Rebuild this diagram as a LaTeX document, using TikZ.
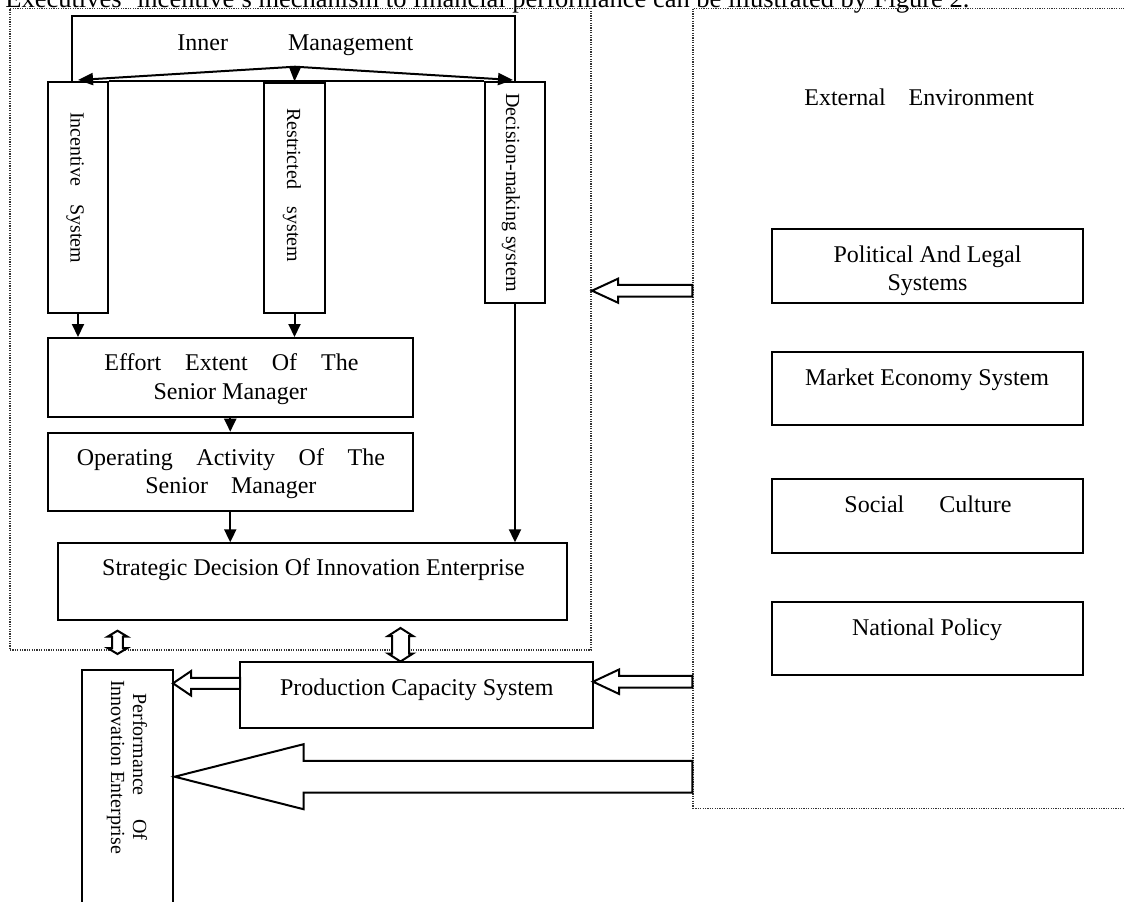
\documentclass[tikz,border=0pt]{standalone}
\usepackage{fontspec}
\setmainfont{Liberation Serif}
\usetikzlibrary{arrows.meta,fit,calc}
\newcommand\mainsz{\fontsize{12}{14}\selectfont}
\newcommand\vsz{\fontsize{10}{11}\selectfont}
% hollow block arrow pointing left: tip, tail, shaft half, head half, head length (px)
\newcommand\blockarrowL[5]{%
  \draw[hollow] let \p1=(#1), \p2=(#2) in
    (\p1) -- (\x1+#5*0.5pt,\y1+#4*0.5pt) -- (\x1+#5*0.5pt,\y1+#3*0.5pt)
    -- (\x2,\y1+#3*0.5pt) -- (\x2,\y1-#3*0.5pt) -- (\x1+#5*0.5pt,\y1-#3*0.5pt)
    -- (\x1+#5*0.5pt,\y1-#4*0.5pt) -- cycle;}
% hollow vertical double arrow: top, bottom, shaft half, head half, head length (px)
\newcommand\dblarrowV[5]{%
  \draw[hollow] let \p1=(#1), \p2=(#2) in
    (\p1) -- (\x1+#4*0.5pt,\y1-#5*0.5pt) -- (\x1+#3*0.5pt,\y1-#5*0.5pt)
    -- (\x1+#3*0.5pt,\y2+#5*0.5pt) -- (\x1+#4*0.5pt,\y2+#5*0.5pt) -- (\x1,\y2)
    -- (\x1-#4*0.5pt,\y2+#5*0.5pt) -- (\x1-#3*0.5pt,\y2+#5*0.5pt)
    -- (\x1-#3*0.5pt,\y1-#5*0.5pt) -- (\x1-#4*0.5pt,\y1-#5*0.5pt) -- cycle;}
\begin{document}
\begin{tikzpicture}[x=0.5pt,y=-0.5pt,
  frame/.style={draw=black!80, line width=0.6pt, dash pattern=on 0.6pt off 0.6pt, inner sep=0pt},
  box/.style={draw, line width=1pt, inner sep=0pt},
  lbl/.style={font=\mainsz, anchor=base, inner sep=0pt},
  vlbl/.style={font=\vsz, rotate=-90, inner sep=0pt, align=center},
  arr/.style={line width=1pt, -{Triangle[width=6pt,length=6.5pt]}},
  arrtop/.style={line width=1pt, -{Triangle[width=6pt,length=7.5pt]}},
  hollow/.style={draw, line width=1pt, fill=white, line join=miter}]
\useasboundingbox (0,0) rectangle (1124,901);

% caption (cut at top)
\node[anchor=base west, inner sep=0pt, font=\fontsize{13.25}{15}\selectfont] (cap) at (5,7.5)
  {Executives' incentive's mechanism to financial performance can be illustrated by Figure 2.};

% frames
\node[frame, fit={(10,8.3) (591,650)}] (inner) {};
\node[frame, fit={(693,8.3) (1140,808.3)}] (ext) {};

% inner management boxes
\node[box, fit={(48,82) (108,313)}] (inc) {};
\node[box, fit={(264,82.5) (325,313)}] (res) {};
\node[box, fit={(485,82) (545,302.7)}] (dec) {};
\node[box, fit={(48,338) (412.5,416.7)}] (eff) {};
\node[box, fit={(48,432.7) (412.5,511)}] (ope) {};
\node[box, fit={(58,543.3) (566.5,619.5)}] (str) {};
\node[box, fit={(240,661.5) (593,727.7)}] (prod) {};
\node[box, fit={(82,670) (173,960)}] (perf) {};

% external boxes
\node[box, fit={(772,229) (1083,303)}] (pol) {};
\node[box, fit={(772,351.7) (1083,425)}] (mkt) {};
\node[box, fit={(772,479) (1083,553)}] (soc) {};
\node[box, fit={(772,601.7) (1083,675)}] (nat) {};

% texts
\node[lbl, anchor=base west] (inm) at (177,50) {\makebox[118pt][s]{Inner Management}};
\node[lbl, anchor=base west] (extt) at (804,105) {\makebox[114.75pt][s]{External Environment}};
\node[vlbl] (inct) at (75,187.5) {\makebox[75.5pt][s]{Incentive System}};
\node[vlbl] (rest) at (292,185) {\makebox[77pt][s]{Restricted system}};
\node[vlbl] (dect) at (511,192.5) {Decision-making system};
\node[lbl, anchor=base west] (efft1) at (104,370.7) {\makebox[127pt][s]{Effort Extent Of The}};
\node[lbl] (efft2) at (230.5,399) {Senior Manager};
\node[lbl, anchor=base west] (opet1) at (76.5,465) {\makebox[154pt][s]{Operating Activity Of The}};
\node[lbl, anchor=base west] (opet2) at (145,493.3) {\makebox[85.5pt][s]{Senior Manager}};
\node[lbl] (strt) at (313.5,575) {Strategic Decision Of Innovation Enterprise};
\node[lbl] (prodt) at (416.8,695) {Production Capacity System};
\node[lbl] (polt1) at (927.5,262) {Political And Legal};
\node[lbl] (polt2) at (927.5,290) {Systems};
\node[lbl] (mktt) at (927,385) {Market Economy System};
\node[lbl, anchor=base west] (soct) at (844,512) {\makebox[83.5pt][s]{Social Culture}};
\node[lbl] (natt) at (927,635) {National Policy};
\node[vlbl] (perft) at (127,767) {\makebox[73.35pt][s]{Performance Of}\\Innovation Enterprise};

% top loop and distribution arrows
\coordinate (apex) at (295,66.7);
\coordinate (ltip) at (78,80);
\coordinate (rtip) at (513,80);
\draw[line width=1pt] (72,82) -- (72,16) -- (515,16) -- (515,82);
\draw[line width=1pt] (inc.north east) -- (dec.north west);
\draw[arrtop] (apex) -- (ltip);
\draw[arrtop] (apex) -- (rtip);
\draw[arrtop] (apex) -- (res.north);

% solid connectors
\draw[arr] (inc.south) -- (inc.south |- eff.north);
\draw[arr] (res.south) -- (res.south |- eff.north);
\draw[arr] (eff.south) -- (ope.north);
\draw[arr] (ope.south) -- (ope.south |- str.north);
\draw[arr] (dec.south) -- (dec.south |- str.north);

% hollow block arrows
\coordinate (a1tip) at (592,290.7);
\coordinate (a2tip) at (593,681.7);
\coordinate (a3tip) at (173,683.3);
\coordinate (a3tail) at (240,683.3);
\coordinate (a4tip) at (174.6,776.7);
\blockarrowL{a1tip}{ext.west}{5.85}{12}{26}
\blockarrowL{a2tip}{ext.west}{5.8}{12.2}{26}
\blockarrowL{a3tip}{a3tail}{5.5}{12.2}{18}
\blockarrowL{a4tip}{ext.west}{15.85}{32.5}{129}

% double arrows
\coordinate (d1t) at (117.5,630.7);
\coordinate (d1b) at (117.5,654);
\coordinate (d2t) at (400.5,628);
\coordinate (d2b) at (400.5,661.5);
\dblarrowV{d1t}{d1b}{5.3}{10}{6}
\dblarrowV{d2t}{d2b}{8.5}{12.5}{8}
\end{tikzpicture}
\end{document}
